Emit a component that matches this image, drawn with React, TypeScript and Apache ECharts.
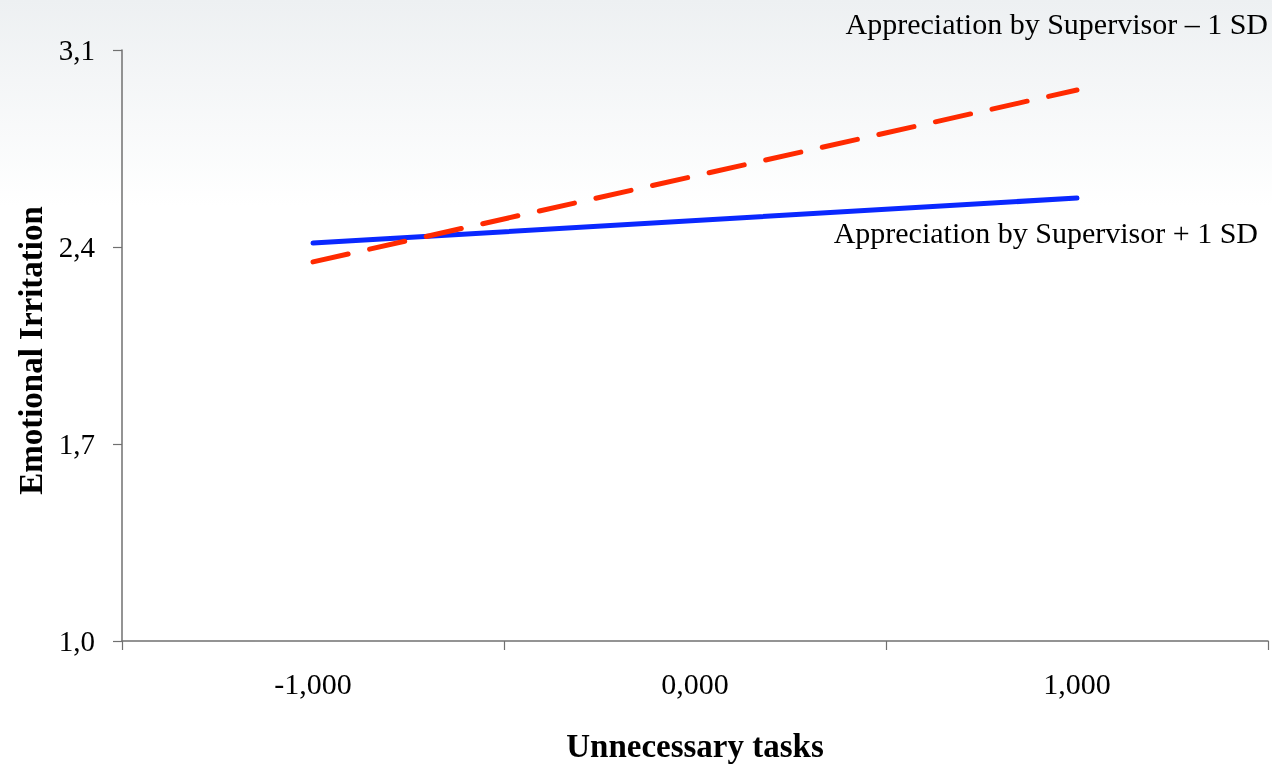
import React, { useEffect, useRef } from "react";
import * as echarts from "echarts";

const categories = ["-1,000", "0,000", "1,000"];
const lowAppreciation = [2.347, null, 2.958];
const highAppreciation = [2.414, null, 2.574];
const yTicks = [1.0, 1.7, 2.4, 3.1];
const seriesNames = ["Appreciation by Supervisor \u2013 1 SD", "Appreciation by Supervisor + 1 SD"];

const SERIF = "'Liberation Serif', 'DejaVu Serif', serif";

export default function App() {
  const ref = useRef<HTMLDivElement>(null);
  useEffect(() => {
    if (!ref.current) return;
    const chart = echarts.init(ref.current, null, { renderer: "svg" });
    chart.setOption({
      animation: false,
      graphic: [
        {
          type: "rect",
          z: -10,
          silent: true,
          shape: { x: 0, y: 0, width: 1272, height: 765 },
          style: {
            fill: new echarts.graphic.LinearGradient(0, 0, 0, 1, [
              { offset: 0, color: "#edf0f2" },
              { offset: 0.27, color: "#ffffff" },
              { offset: 1, color: "#ffffff" },
            ]),
          },
        },
        {
          type: "text",
          right: 4,
          top: 8,
          style: { text: seriesNames[0], font: `30px ${SERIF}`, fill: "#000" },
        },
        {
          type: "text",
          right: 14,
          top: 217,
          style: { text: seriesNames[1], font: `30px ${SERIF}`, fill: "#000" },
        },
      ],
      grid: { left: 122, right: 4, top: 50, bottom: 124, containLabel: false, outerBoundsMode: "none" },
      xAxis: {
        type: "category",
        data: categories,
        boundaryGap: true,
        name: "Unnecessary tasks",
        nameLocation: "middle",
        nameGap: 88,
        nameTextStyle: { fontFamily: SERIF, fontSize: 33, fontWeight: "bold", color: "#000" },
        axisLine: { lineStyle: { color: "#707070", width: 1.5 } },
        axisTick: { show: true, length: 9, alignWithLabel: false, lineStyle: { color: "#707070", width: 1.2 } },
        axisLabel: { fontFamily: SERIF, fontSize: 30, color: "#000", margin: 27 },
        splitLine: { show: false },
      },
      yAxis: {
        type: "value",
        min: 1.0,
        max: 3.1,
        name: "Emotional Irritation",
        nameLocation: "middle",
        nameGap: 73,
        nameRotate: 90,
        nameTextStyle: { fontFamily: SERIF, fontSize: 33, fontWeight: "bold", color: "#000", padding: [0, 10, 0, 0] },
        axisLine: { show: true, lineStyle: { color: "#707070", width: 1.5 } },
        axisTick: { show: true, length: 9, customValues: yTicks, lineStyle: { color: "#707070", width: 1.2 } },
        axisLabel: {
          customValues: yTicks,
          fontFamily: SERIF,
          fontSize: 29,
          color: "#000",
          margin: 27,
          formatter: (v: number) => v.toFixed(1).replace(".", ","),
        },
        splitLine: { show: false },
      },
      series: [
        {
          name: seriesNames[1],
          type: "line",
          data: highAppreciation,
          connectNulls: true,
          showSymbol: false,
          symbol: "none",
          lineStyle: { color: "#0a28ff", width: 5, cap: "round" },
        },
        {
          name: seriesNames[0],
          type: "line",
          data: lowAppreciation,
          connectNulls: true,
          showSymbol: false,
          symbol: "none",
          lineStyle: { color: "#ff2a00", width: 5, type: [36, 22], cap: "round" },
        },
      ],
    });
    return () => chart.dispose();
  }, []);
  return (
    <div
      ref={ref}
      style={{ position: "fixed", left: 0, top: 0, width: 1272, height: 765 }}
    />
  );
}
